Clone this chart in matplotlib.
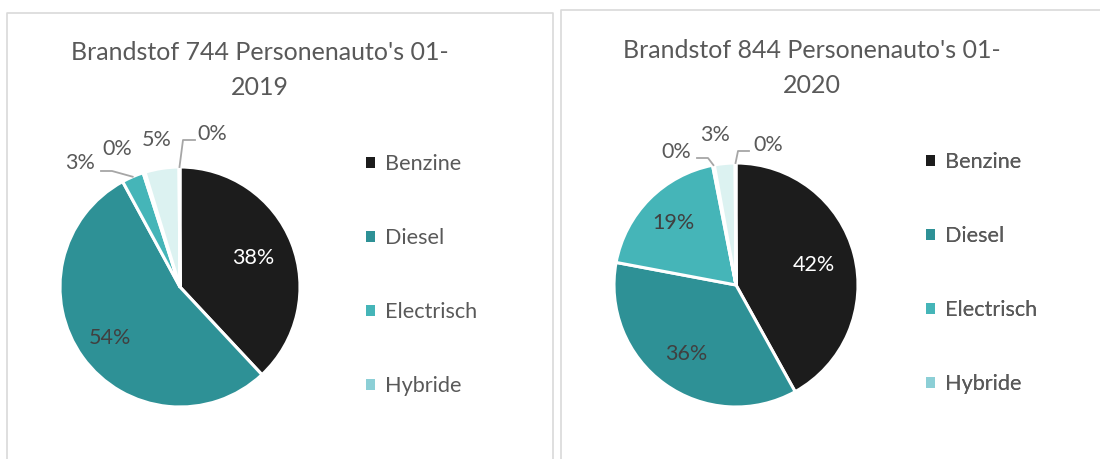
import numpy as np
import matplotlib.pyplot as plt
from matplotlib.patches import Patch

plt.rcParams['font.family'] = ['Lato', 'DejaVu Sans']

W, H = 1100, 459

FUELS   = ["Benzine", "Diesel", "Electrisch", "Hybride", "LPG", "Overig"]
COLORS  = ["#1c1c1c", "#2e9196", "#45b5b8", "#8ccfd6", "#dcf2f1", "#f2f2f2"]
N_SHOWN = 4   # legend is cut off after four entries

TITLES     = ["Brandstof 744 Personenauto's 01-\n2019",
              "Brandstof 844 Personenauto's 01-\n2020"]
CARS_2019  = [283, 402, 22, 2, 34, 1]
CARS_2020  = [354, 304, 160, 2, 23, 1]

TXT  = "#595959"
LINE = "#a6a6a6"
FS_LAB, FS_LEG, FS_TITLE = 15.5, 15.6, 18

# layout in pixels (y from top)
PANELS = [
    dict(box=(7, 13, 553), center=(180, 287), r=120, title=(260, 70),
         legend=(366, 154), data=CARS_2019,
         inside={0: ("white", 0.66), 1: ("#404040", 0.72)},
         outside={2: ((80, 163), [(101, 171), (112, 171)]),
                  3: ((117, 149), None),
                  4: ((157, 140), None),
                  5: ((212, 134), [(195, 140), (183, 140)])}),
    dict(box=(561, 10, 1105), center=(736, 285), r=122, title=(812, 68),
         legend=(926, 152), data=CARS_2020,
         inside={0: ("white", 0.66), 1: ("#404040", 0.70), 2: ("#404040", 0.72)},
         outside={3: ((676, 152), [(697, 158), (708, 158)]),
                  4: ((715, 135), None),
                  5: ((768, 145), [(749, 151), (738, 151)])}),
]

def px(x, y):
    return x, H - y

fig = plt.figure(figsize=(W / 100, H / 100), dpi=100)
ax = fig.add_axes([0, 0, 1, 1])
ax.set_xlim(0, W); ax.set_ylim(0, H)
ax.set_aspect("equal"); ax.axis("off")

for k, p in enumerate(PANELS):
    x0, y0, x1 = p["box"]
    ax.plot([x0, x0, x1, x1], [0, H - y0, H - y0, 0], color="#d9d9d9", lw=1.2)

    vals = np.array(p["data"], dtype=float)
    pct = vals / vals.sum() * 100
    cx, cy = px(*p["center"])
    wedges, _ = ax.pie(vals, colors=COLORS, startangle=90, counterclock=False,
                       center=(cx, cy), radius=p["r"],
                       wedgeprops=dict(edgecolor="white", linewidth=2.2))
    ax.set_xlim(0, W); ax.set_ylim(0, H)

    for i, w in enumerate(wedges):
        mid = np.deg2rad((w.theta1 + w.theta2) / 2)
        lab = f"{pct[i]:.0f}%"
        if i in p["inside"]:
            col, d = p["inside"][i]
            ax.text(cx + d * p["r"] * np.cos(mid), cy + d * p["r"] * np.sin(mid), lab,
                    color=col, fontsize=FS_LAB, ha="center", va="center")
        elif i in p["outside"]:
            pos, lead = p["outside"][i]
            ax.text(*px(*pos), lab, color=TXT, fontsize=FS_LAB, ha="center", va="center")
            if lead:
                ex = cx + p["r"] * np.cos(mid)
                ey = cy + p["r"] * np.sin(mid)
                pts = [px(*q) for q in lead] + [(ex, ey)]
                ax.plot([q[0] for q in pts], [q[1] for q in pts], color=LINE, lw=1.3)

    ax.text(*px(*p["title"]), TITLES[k], color=TXT,
            fontsize=FS_TITLE, ha="center", va="center", linespacing=1.6)

    handles = [Patch(facecolor=c, edgecolor="none") for c in COLORS[:N_SHOWN]]
    lx, ly = px(*p["legend"])
    leg = ax.legend(handles, FUELS[:N_SHOWN], loc="upper left",
                    bbox_to_anchor=(lx / W, ly / H), bbox_transform=fig.transFigure,
                    frameon=False, fontsize=FS_LEG, labelcolor=TXT, handlelength=0.42,
                    handleheight=0.42, handletextpad=0.45, labelspacing=2.5,
                    borderpad=0, borderaxespad=0)
    ax.add_artist(leg)

fig.savefig("out.png", dpi=100)
